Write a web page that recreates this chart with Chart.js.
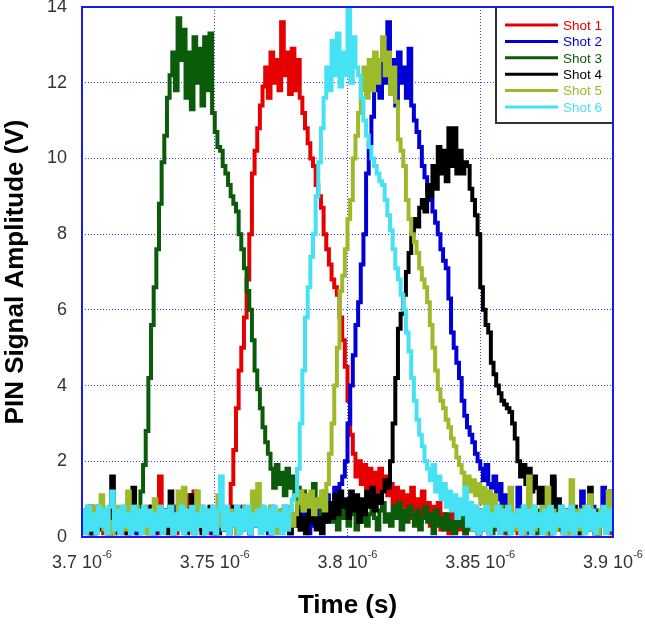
<!DOCTYPE html>
<html>
<head>
<meta charset="utf-8">
<script src="https://cdn.jsdelivr.net/npm/chart.js@4.4.0/dist/chart.umd.min.js"></script>
<style>
  html, body { margin: 0; padding: 0; background: #fff; }
</style>
</head>
<body>
<canvas id="myChart" width="645" height="626"></canvas>
<script>
// time base of the samples, in microseconds
const tStart = 3.7;
const tStep = 0.001;

const shotLabels = ['Shot 1', 'Shot 2', 'Shot 3', 'Shot 4', 'Shot 5', 'Shot 6'];
const shotColors = ['#e60000', '#0000d6', '#0a5c0a', '#000000', '#9cba2a', '#46e2f4'];

const xTickValues = [3.7, 3.75, 3.8, 3.85, 3.9];
const xTickLabels = ['3.7 10', '3.75 10', '3.8 10', '3.85 10', '3.9 10'];
const xTickExponent = '-6';
const yTickValues = [0, 2, 4, 6, 8, 10, 12, 14];

// PIN amplitude (V), one sample every 0.001 us from 3.7 us
const shot1 = [
  0.3,0.7,0.1,0.5,0.8,0.2,0.6,0.4,0.1,0.7,
  0.3,0.8,0.5,0.2,0.6,0.1,0.7,0.4,0.8,0.2,
  0.5,0.1,0.6,0.3,0.8,0.2,0.4,0.7,0.1,1.6,
  0.3,0.6,0.2,0.8,0.4,0.1,0.7,0.5,0.2,0.6,
  1.1,0.3,1.2,0.5,0.8,0.2,0.6,0.4,0.1,0.7,
  0.1,0.8,0.3,0.6,0.2,0.6,1.4,2.3,3.4,4.4,
  5.0,5.8,6.8,8.0,9.6,10.2,10.8,11.4,11.9,12.4,
  11.6,12.8,12.0,12.6,11.8,13.6,12.2,12.8,11.7,12.9,
  11.8,12.6,11.6,11.2,10.8,10.4,10.0,9.8,9.3,9.0,
  8.7,8.0,7.6,7.2,6.8,6.6,6.4,5.8,5.2,4.5,
  3.6,2.7,2.2,1.6,2.0,1.4,1.9,1.3,1.8,1.4,
  1.7,1.2,1.8,1.3,1.6,1.1,1.4,0.9,1.3,0.6,
  1.2,0.8,1.1,0.5,1.3,0.7,1.0,0.4,1.2,0.6,
  0.9,0.3,0.8,0.5,0.9,0.2,0.6,0.4,0.1,0.7,
  0.3,0.5,0.2,0.8,0.1,0.4,0.6,0.2,0.5,0.1,
  0.7,0.3,0.4,0.1,0.6,0.2,0.8,0.3,0.5,0.1,
  0.4,0.7,0.2,0.6,0.1,0.5,0.3,0.8,0.2,0.4,
  0.1,0.6,0.3,0.5,0.2,0.7,0.1,0.4,0.6,0.2,
  0.5,0.1,0.7,0.3,0.4,0.2,0.6,0.1,0.5,0.3,
  0.8,0.2,0.4,0.1,0.6,0.3,0.5,0.2,0.7,0.1,
  0.4
];

const shot2 = [
  0.2,0.6,0.4,0.8,0.1,0.5,0.3,0.7,0.2,0.6,
  0.4,0.9,0.1,0.5,0.7,0.3,0.6,0.2,0.8,0.4,
  0.1,0.6,0.3,0.7,0.2,0.5,0.8,0.1,0.4,0.6,
  0.3,0.7,0.2,0.5,0.1,0.8,0.4,0.6,0.2,0.7,
  0.3,0.5,0.1,0.8,0.4,0.2,0.6,0.3,0.7,0.1,
  0.5,0.8,0.2,0.6,0.4,0.1,0.7,0.3,0.5,0.2,
  0.8,0.4,0.6,0.1,0.5,0.3,0.7,0.2,0.6,0.4,
  0.1,0.8,0.3,0.5,0.2,0.7,0.4,0.6,0.1,0.5,
  0.3,0.8,0.2,0.6,0.4,0.1,0.7,0.3,0.9,0.5,
  0.8,0.4,1.1,0.6,0.9,1.3,1.0,1.4,1.6,2.0,
  3.0,4.0,4.8,5.6,6.2,7.2,8.0,9.6,10.4,11.1,
  11.8,12.6,11.6,12.8,12.0,13.6,11.8,12.6,11.4,12.8,
  12.0,12.4,11.6,12.9,11.4,11.0,10.7,10.3,9.8,9.5,
  9.2,8.9,8.6,8.3,8.0,7.6,7.3,7.1,6.3,5.4,
  5.0,4.6,4.2,3.6,3.2,2.9,2.7,2.5,2.2,2.0,
  1.8,1.5,1.9,1.4,1.3,1.6,1.0,1.4,0.8,1.1,
  0.5,0.8,0.2,0.6,1.3,0.3,0.7,0.1,0.5,0.8,
  0.3,0.6,0.2,0.7,0.4,0.1,0.6,1.5,0.3,0.5,
  0.8,0.2,0.6,0.4,0.1,0.7,0.3,0.5,1.2,0.2,
  0.6,0.4,0.8,0.1,0.5,0.3,1.3,0.2,0.6,0.4,
  0.7
];

const shot3 = [
  0.6,0.2,0.8,0.4,0.1,0.7,0.3,0.8,0.2,0.5,
  0.1,0.8,0.4,0.2,0.7,0.3,0.6,0.1,0.8,0.5,
  0.2,0.7,1.2,1.9,2.8,4.2,5.6,6.6,7.6,8.8,
  9.9,10.6,11.6,12.2,12.8,11.8,13.7,12.6,13.4,11.6,
  12.8,11.3,13.2,12.0,12.9,11.4,13.2,11.8,13.3,11.2,
  10.7,10.3,10.2,9.8,9.6,9.3,9.0,8.8,8.6,8.0,
  7.6,7.1,6.5,6.0,5.2,4.4,3.9,3.4,2.9,2.5,
  2.2,1.8,1.3,1.9,1.4,1.7,1.1,1.8,1.3,1.6,
  1.0,1.3,0.7,1.2,0.8,1.1,0.6,1.4,0.8,1.0,
  0.5,1.2,0.7,0.9,0.4,0.8,0.2,0.7,0.5,0.9,
  0.3,0.6,0.8,0.2,0.7,0.4,0.9,0.3,0.6,0.8,
  0.5,0.2,0.7,0.9,0.4,0.6,0.3,0.8,0.5,0.9,
  0.2,0.7,0.4,0.8,0.6,0.3,0.7,0.2,0.5,0.8,
  0.4,0.6,0.1,0.7,0.3,0.5,0.2,0.6,0.2,0.4,
  0.1,0.7,0.3,0.5,0.1,0.6,0.2,0.8,0.3,0.1,
  0.5,0.2,0.7,0.4,0.1,0.6,0.3,0.5,0.2,0.8,
  0.1,0.4,0.6,0.2,0.3,0.7,0.1,0.5,0.2,0.6,
  0.4,0.1,0.7,0.3,0.2,0.5,0.1,0.6,0.3,0.8,
  0.2,0.4,0.1,0.6,0.3,0.5,0.2,0.7,0.1,0.4,
  0.3,0.6,0.2,0.5,0.1,0.4,0.3,0.7,0.2,0.5,
  0.1
];

const shot4 = [
  0.5,0.2,0.7,0.1,0.6,0.3,0.8,0.2,0.4,0.6,
  0.1,1.6,0.3,0.7,0.2,0.5,0.8,0.1,0.6,1.3,
  0.4,0.2,0.7,0.3,0.5,0.1,0.8,0.4,0.2,0.6,
  0.3,0.7,0.1,1.2,0.5,0.2,0.8,0.3,0.6,0.1,
  0.4,1.1,0.2,0.7,0.5,0.1,0.6,0.3,0.8,0.2,
  0.5,0.1,0.7,0.4,0.2,0.6,0.3,0.8,0.1,0.5,
  0.2,0.7,0.4,0.1,0.6,0.3,0.5,0.8,0.2,0.4,
  0.6,0.1,0.7,0.3,0.5,0.2,0.8,0.4,0.1,0.6,
  0.3,0.7,0.2,0.5,0.1,0.8,0.4,0.6,0.2,0.5,
  0.1,0.7,0.4,0.9,0.5,1.1,0.6,1.2,0.8,1.0,
  0.5,1.2,0.7,1.1,0.4,1.0,0.6,1.2,0.8,1.3,
  0.7,1.1,0.9,1.2,1.5,1.3,2.0,3.0,4.2,5.5,
  5.9,6.4,7.0,7.5,8.0,8.4,8.2,8.7,8.9,8.6,
  9.3,9.0,9.8,9.2,10.3,9.6,10.2,9.4,10.8,9.8,
  10.8,9.6,10.2,9.6,9.9,9.8,9.2,8.9,8.5,8.0,
  6.6,6.0,5.6,5.4,4.6,4.3,4.0,3.8,3.6,3.5,
  3.4,3.3,3.0,2.6,2.0,1.6,1.9,1.4,1.8,1.2,
  1.6,1.3,0.9,1.3,0.6,1.2,0.7,1.6,0.5,1.0,
  0.6,0.3,0.7,0.2,0.5,0.8,0.1,0.4,0.6,0.2,
  0.5,1.3,0.3,0.7,0.1,0.6,0.4,0.2,0.8,1.2,
  0.4
];

const shot5 = [
  0.4,0.7,0.2,0.5,0.8,0.3,0.6,1.1,0.2,0.7,
  0.4,0.1,0.6,0.8,0.3,0.5,0.2,1.2,0.6,0.3,
  0.8,0.2,0.5,0.7,0.1,0.6,0.4,1.0,0.3,0.8,
  0.2,0.6,0.4,0.8,0.1,0.5,1.2,0.3,1.3,0.6,
  0.2,0.7,0.4,1.2,0.3,0.8,0.1,0.5,0.7,0.2,
  0.6,1.1,0.3,0.8,0.4,0.2,0.7,0.5,0.1,0.6,
  0.3,0.8,0.2,0.5,1.2,0.4,1.4,0.7,0.2,0.6,
  0.3,0.8,0.5,0.1,0.7,0.4,0.6,0.2,0.8,0.3,
  0.6,0.9,1.2,0.7,1.1,0.8,1.2,0.6,1.0,0.8,
  1.2,0.7,1.4,2.2,3.0,4.0,5.0,6.5,6.9,7.6,
  8.4,8.9,10.0,10.6,11.2,11.8,12.4,11.6,12.6,11.8,
  12.8,12.0,12.6,13.2,12.2,12.8,11.7,12.4,11.5,10.5,
  10.2,9.8,8.9,8.4,8.0,7.8,7.5,7.1,6.8,6.6,
  6.2,5.6,5.0,4.4,3.9,3.6,3.4,3.1,2.9,2.6,
  2.4,2.1,1.9,1.7,1.4,1.6,1.2,1.5,1.1,1.4,
  0.9,1.3,0.8,1.2,0.6,1.1,0.4,0.8,0.2,0.6,
  0.3,1.3,0.5,0.2,0.7,0.4,0.1,0.8,1.6,0.5,
  0.2,0.6,0.3,0.8,0.1,1.3,0.4,0.7,0.2,0.5,
  0.8,0.3,0.6,0.1,1.5,0.4,0.7,0.2,0.5,0.8,
  0.3,1.1,0.4,0.6,0.1,0.7,0.3,0.5,1.2,0.4,
  0.6
];

const shot6 = [
  0.7,0.1,0.8,0.2,0.6,0.1,0.8,0.3,0.7,0.1,
  0.8,1.2,0.2,0.7,0.1,0.8,0.3,0.6,0.1,0.8,
  0.2,0.7,0.1,0.8,0.3,0.7,0.1,0.6,0.2,0.8,
  0.1,0.7,0.3,0.8,0.1,0.6,0.2,0.8,0.1,0.7,
  0.2,0.8,0.1,0.6,0.3,0.8,0.1,0.7,0.2,0.8,
  0.1,0.7,1.6,0.2,0.8,0.1,0.6,0.3,0.8,0.1,
  0.7,0.2,0.8,0.1,0.6,0.3,0.7,0.1,0.8,0.2,
  0.7,0.1,0.8,0.3,0.6,0.1,0.8,0.2,0.7,1.0,
  1.1,1.8,3.0,4.4,5.8,6.6,7.4,8.0,9.0,9.9,
  10.8,11.6,12.4,11.8,13.1,12.2,13.3,11.9,12.8,12.2,
  14.0,12.0,13.2,12.4,12.2,11.6,11.0,10.6,10.3,10.0,
  9.8,9.6,9.4,9.3,8.9,8.5,8.1,7.6,7.1,6.8,
  6.4,6.0,5.4,4.9,4.2,3.6,3.1,2.7,2.4,2.0,
  1.8,1.5,1.9,1.2,1.6,1.0,1.4,0.8,1.2,0.7,
  1.1,0.5,1.0,0.6,1.3,0.3,0.9,0.2,0.8,0.1,
  0.7,0.2,0.8,0.1,0.6,0.3,0.8,0.1,0.7,0.2,
  0.8,0.1,0.6,0.3,0.7,0.1,0.8,0.2,0.7,0.1,
  0.8,0.3,0.6,0.1,0.7,0.2,0.8,0.1,0.6,0.3,
  0.8,0.1,0.7,0.2,0.8,0.1,0.6,0.3,0.7,0.1,
  0.8,0.2,0.7,0.1,0.6,0.3,0.8,0.1,0.7,0.2,
  0.6
];

const shots = [shot1, shot2, shot3, shot4, shot5, shot6];

const fontFamily = "'Liberation Sans', Arial, sans-serif";

const toPoints = vals => vals.map((v, k) => ({ x: tStart + k * tStep, y: v }));

// legend box, plot frame and the "x 10^-6" tick labels
const extras = {
    id: 'extras',
    afterDraw(chart) {
        const ctx = chart.ctx;
        const area = chart.chartArea;
        ctx.save();

        const x0 = area.right - 117;
        const y0 = area.top;
        const h = 116;
        ctx.fillStyle = '#ffffff';
        ctx.fillRect(x0, y0, area.right - x0, h);
        ctx.strokeStyle = '#333333';
        ctx.lineWidth = 2;
        ctx.beginPath();
        ctx.moveTo(x0, y0);
        ctx.lineTo(x0, y0 + h);
        ctx.lineTo(area.right, y0 + h);
        ctx.stroke();
        ctx.font = '13.5px ' + fontFamily;
        ctx.textBaseline = 'middle';
        chart.data.datasets.forEach((ds, i) => {
            const y = y0 + 18 + i * 16.4;
            ctx.strokeStyle = ds.borderColor;
            ctx.lineWidth = 3;
            ctx.beginPath();
            ctx.moveTo(x0 + 9, y);
            ctx.lineTo(x0 + 62, y);
            ctx.stroke();
            ctx.fillStyle = ds.borderColor;
            ctx.fillText(ds.label, x0 + 67, y + 1);
        });

        ctx.strokeStyle = '#1a1aee';
        ctx.lineWidth = 2;
        ctx.strokeRect(area.left, area.top, area.right - area.left, area.bottom - area.top);

        const xs = chart.scales.x;
        const mainFont = '18px ' + fontFamily;
        const supFont = '11px ' + fontFamily;
        ctx.fillStyle = '#333333';
        ctx.textBaseline = 'alphabetic';
        ctx.textAlign = 'left';
        xTickValues.forEach((v, i) => {
            const px = xs.getPixelForValue(v);
            ctx.font = mainFont;
            const w1 = ctx.measureText(xTickLabels[i]).width;
            ctx.font = supFont;
            const w2 = ctx.measureText(xTickExponent).width;
            const left = px - (w1 + w2) / 2;
            ctx.font = mainFont;
            ctx.fillText(xTickLabels[i], left, area.bottom + 31);
            ctx.font = supFont;
            ctx.fillText(xTickExponent, left + w1, area.bottom + 21);
        });
        ctx.restore();
    }
};

const ctx = document.getElementById('myChart').getContext('2d');
new Chart(ctx, {
    type: 'line',
    data: {
        datasets: shots.map((vals, i) => ({
            label: shotLabels[i],
            data: toPoints(vals),
            borderColor: shotColors[i],
            backgroundColor: shotColors[i],
            borderWidth: 4,
            pointRadius: 0,
            stepped: true,
            fill: false,
            order: shots.length - i
        }))
    },
    options: {
        responsive: false,
        animation: false,
        layout: { padding: { top: 7, right: 32, bottom: 0, left: 0 } },
        plugins: {
            legend: { display: false },
            tooltip: { enabled: false }
        },
        scales: {
            x: {
                type: 'linear',
                min: 3.7,
                max: 3.9,
                afterBuildTicks: axis => { axis.ticks = xTickValues.map(v => ({ value: v })); },
                afterFit: scale => {
                    scale.height = 89;
                    scale.paddingLeft = 0;
                    scale.paddingRight = 0;
                },
                ticks: {
                    autoSkip: false,
                    maxRotation: 0,
                    padding: 12,
                    color: 'rgba(0,0,0,0)',
                    font: { family: fontFamily, size: 18 },
                    callback: (v, i) => xTickLabels[i]
                },
                grid: { color: '#3c3cf0', lineWidth: 1, drawTicks: false },
                border: { display: false, dash: [1, 2] },
                title: {
                    display: true,
                    text: 'Time (s)',
                    color: '#000000',
                    font: { family: fontFamily, size: 26, weight: 'bold' },
                    padding: { top: 0, bottom: 5 }
                }
            },
            y: {
                min: 0,
                max: 14,
                afterBuildTicks: axis => { axis.ticks = yTickValues.map(v => ({ value: v })); },
                afterFit: scale => {
                    scale.width = 82;
                    scale.paddingTop = 0;
                    scale.paddingBottom = 0;
                },
                ticks: {
                    padding: 15,
                    color: '#333333',
                    font: { family: fontFamily, size: 18 }
                },
                grid: { color: '#3c3cf0', lineWidth: 1, drawTicks: false },
                border: { display: false, dash: [1, 2] },
                title: {
                    display: true,
                    text: 'PIN Signal Amplitude (V)',
                    color: '#000000',
                    font: { family: fontFamily, size: 26, weight: 'bold' },
                    padding: { top: 0, bottom: 0 }
                }
            }
        }
    },
    plugins: [extras]
});
</script>
</body>
</html>
